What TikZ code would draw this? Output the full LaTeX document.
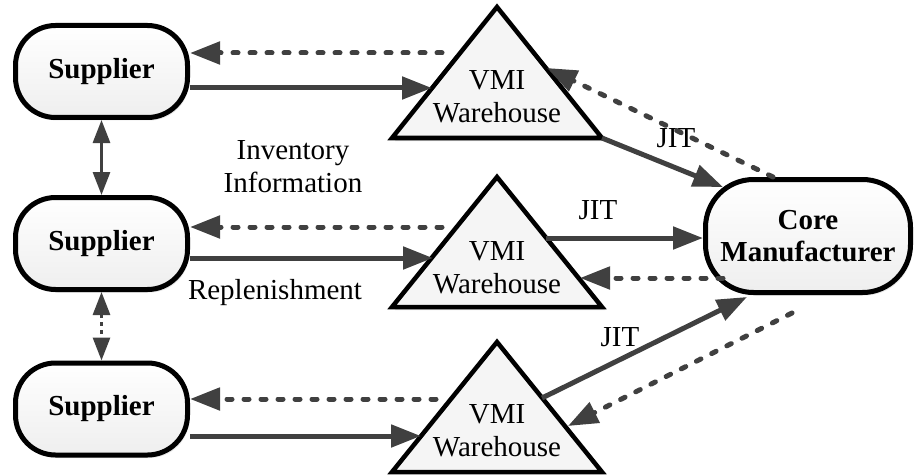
\documentclass[tikz,border=0pt]{standalone}
\usepackage{fontspec}
\setmainfont{Liberation Serif}
\newfontfamily\tnr{Liberation Serif}
\usetikzlibrary{arrows.meta,shadows,calc}
\definecolor{arrgray}{HTML}{404040}
\tikzset{
  box/.style={draw=black, line width=5pt, top color=white, bottom color=gray!13,
    font=\tnr\fontsize{29}{32}\selectfont\bfseries, align=center, inner sep=0pt,
    drop shadow={shadow xshift=2pt, shadow yshift=-3pt, opacity=0.2}},
  supbox/.style={box, rounded corners=40pt, minimum width=172pt, minimum height=92pt},
  corebox/.style={box, rounded corners=48pt, minimum width=205pt, minimum height=113pt},
  tri/.style={draw=black, line width=4.5pt, line join=miter, fill=gray!8},
  tritext/.style={font=\tnr\fontsize{29}{33}\selectfont, align=center, inner sep=0pt},
  lbl/.style={font=\tnr\fontsize{29}{33}\selectfont, align=center, inner sep=0pt},
  solidarrow/.style={draw=arrgray, line width=5pt, -{Triangle[length=30pt,width=22pt]}},
  dasharrow/.style={draw=arrgray, line width=5pt, line cap=round, dash pattern=on 5pt off 12pt,
    -{Triangle[length=30pt,width=22pt,line cap=butt]}},
  vdouble/.style={draw=arrgray, line width=3pt, {Triangle[length=23pt,width=17pt]}-{Triangle[length=23pt,width=17pt]}},
}
\begin{document}
\begin{tikzpicture}[x=1pt,y=-1pt]
\useasboundingbox (0,0) rectangle (915,476);
% suppliers
\node[supbox] (s1) at (101.5,71.5) {Supplier};
\node[supbox] (s2) at (101.5,243.5) {Supplier};
\node[supbox] (s3) at (101.5,409) {Supplier};
% core manufacturer
\node[corebox] (core) at (808,236) {Core\\Manufacturer};
% triangles
\coordinate (t1l) at (392,138); \coordinate (t1r) at (602,138); \coordinate (t1a) at (497,7);
\coordinate (t2l) at (392,307); \coordinate (t2r) at (602,307); \coordinate (t2a) at (497,177);
\coordinate (t3l) at (392,472); \coordinate (t3r) at (602,472); \coordinate (t3a) at (497,342);
\fill[gray!25] ($(t1l)+(3,3)$) -- ($(t1r)+(3,3)$) -- ($(t1a)+(3,3)$) -- cycle;
\fill[gray!25] ($(t2l)+(3,3)$) -- ($(t2r)+(3,3)$) -- ($(t2a)+(3,3)$) -- cycle;
\draw[tri] (t1l) -- (t1r) -- (t1a) -- cycle;
\draw[tri] (t2l) -- (t2r) -- (t2a) -- cycle;
\draw[tri] (t3l) -- (t3r) -- (t3a) -- cycle;
\node[tritext] (w1) at (497,97) {VMI\\Warehouse};
\node[tritext] (w2) at (497,268) {VMI\\Warehouse};
\node[tritext] (w3) at (497,431) {VMI\\Warehouse};
% labels
\node[lbl] (inv) at (293,167) {Inventory\\Information};
\node[lbl] (rep) at (275,293) {Replenishment};
\node[lbl] (jit1) at (676,138) {JIT};
\node[lbl] (jit2) at (598,210) {JIT};
\node[lbl] (jit3) at (620,337) {JIT};
% top row connectors
\coordinate (d1) at (442,53);
\coordinate (r1) at (432,88);
\draw[dasharrow] (d1) -- (d1 -| s1.east);
\draw[solidarrow] (r1 -| s1.east) -- (r1);
\coordinate (c1) at (773,177); \coordinate (h1) at (547,68);
\draw[dasharrow] (c1) -- (h1);
\coordinate (j1) at (723,187);
\draw[solidarrow] (t1r) -- (j1);
% middle row connectors
\coordinate (d2) at (442,227);
\coordinate (r2) at (433,258);
\draw[dasharrow] (d2) -- (d2 -| s2.east);
\draw[solidarrow] (r2 -| s2.east) -- (r2);
\coordinate (j2) at (546,238);
\draw[solidarrow] (j2) -- (j2 -| core.west);
\coordinate (c2) at (723,278); \coordinate (h2) at (580,278);
\draw[dasharrow] (c2) -- (h2);
% bottom row connectors
\coordinate (d3) at (436,399);
\coordinate (r3) at (421,436);
\draw[dasharrow] (d3) -- (d3 -| s3.east);
\draw[solidarrow] (r3 -| s3.east) -- (r3);
\coordinate (j3s) at (542,398); \coordinate (j3e) at (747,297);
\draw[solidarrow] (j3s) -- (j3e);
\coordinate (c3) at (792,313); \coordinate (h3) at (568,426);
\draw[dasharrow] (c3) -- (h3);
% vertical links between suppliers
\draw[vdouble] (s1.south) -- (s2.north);
\draw[vdouble, dash pattern=on 4pt off 4pt] (s2.south) -- (s3.north);
\end{tikzpicture}
\end{document}
